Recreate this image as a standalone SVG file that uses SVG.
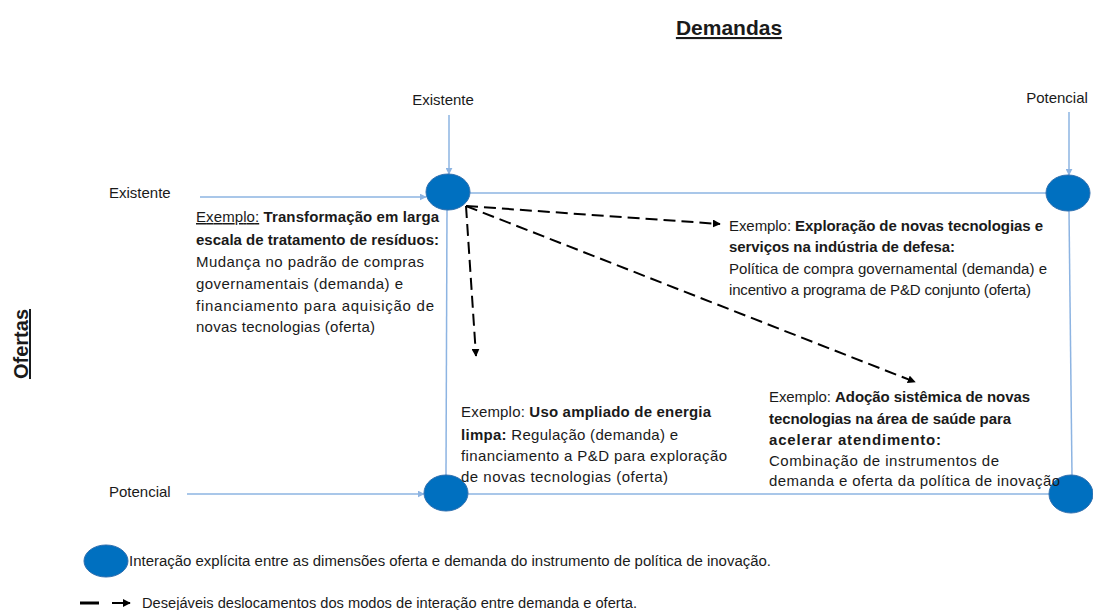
<svg xmlns="http://www.w3.org/2000/svg" width="1093" height="610" viewBox="0 0 1093 610">
<style>
text{font-family:"Liberation Sans",Arial,sans-serif;fill:#1a1a1a}
.t{font-size:15px}
.b{font-weight:bold}
.lbl{font-size:15px}
.ax{stroke:#8DB4E2;stroke-width:1.5;fill:none}
.node{fill:#0070C0;stroke:#2F6FAF;stroke-width:1}
.dash{stroke:#000;stroke-width:2;stroke-dasharray:12 6;fill:none}
</style>
<defs>
<marker id="ab" viewBox="0 0 10 10" refX="9" refY="5" markerWidth="7" markerHeight="7" markerUnits="userSpaceOnUse" orient="auto"><path d="M0,0L10,5L0,10z" fill="#8DB4E2"/></marker>
<marker id="ak" viewBox="0 0 10 10" refX="9" refY="5" markerWidth="8" markerHeight="8" markerUnits="userSpaceOnUse" orient="auto"><path d="M0,0L10,5L0,10z" fill="#000"/></marker>
</defs>
<text x="729" y="35" text-anchor="middle" class="b" font-size="21" text-decoration="underline">Demandas</text>
<text transform="translate(28,344) rotate(-90)" text-anchor="middle" class="b" font-size="20" text-decoration="underline">Ofertas</text>
<text x="443" y="105" text-anchor="middle" class="lbl">Existente</text>
<text x="1057" y="103" text-anchor="middle" class="lbl">Potencial</text>
<text x="109" y="198" class="lbl">Existente</text>
<text x="109" y="497" class="lbl">Potencial</text>
<g id="connectors">
<line class="ax" x1="449" y1="115" x2="449" y2="174" marker-end="url(#ab)"/>
<line class="ax" x1="1069" y1="112" x2="1069" y2="175" marker-end="url(#ab)"/>
<line class="ax" x1="200" y1="197" x2="426" y2="197" marker-end="url(#ab)"/>
<line class="ax" x1="187" y1="494" x2="424" y2="494" marker-end="url(#ab)"/>
<line class="ax" x1="470" y1="193" x2="1046" y2="193"/>
<line class="ax" x1="447" y1="210" x2="446" y2="475"/>
<line class="ax" x1="1069" y1="211" x2="1072" y2="476"/>
<line class="ax" x1="468" y1="494" x2="1050" y2="494"/>
<line class="dash" x1="466" y1="206" x2="476" y2="356" marker-end="url(#ak)"/>
<line class="dash" x1="466" y1="206" x2="720" y2="224" marker-end="url(#ak)"/>
<line class="dash" x1="466" y1="206" x2="915" y2="382" marker-end="url(#ak)"/>
</g>
<g id="n-ee"><ellipse class="node" cx="448" cy="192" rx="22" ry="18"/></g>
<g id="n-ep"><ellipse class="node" cx="1068" cy="193" rx="22" ry="18"/></g>
<g id="n-pe"><ellipse class="node" cx="446" cy="493" rx="22" ry="18"/></g>
<g id="n-pp"><ellipse class="node" cx="1071" cy="494" rx="22" ry="19"/></g>
<g id="ex1" class="t">
<text x="196" y="222" textLength="243"><tspan text-decoration="underline">Exemplo:</tspan> <tspan class="b">Transformação em larga</tspan></text>
<text x="196" y="245" class="b" textLength="243">escala de tratamento de resíduos:</text>
<text x="196" y="267" textLength="228">Mudança no padrão de compras</text>
<text x="196" y="289" textLength="207">governamentais (demanda) e</text>
<text x="196" y="311" textLength="238">financiamento para aquisição de</text>
<text x="196" y="332" textLength="179">novas tecnologias (oferta)</text>
</g>
<g id="ex2" class="t">
<text x="729" y="231" textLength="314">Exemplo: <tspan class="b">Exploração de novas tecnologias e</tspan></text>
<text x="729" y="252" class="b" textLength="226">serviços na indústria de defesa:</text>
<text x="729" y="274" textLength="318">Política de compra governamental (demanda) e</text>
<text x="729" y="295" textLength="302">incentivo a programa de P&amp;D conjunto (oferta)</text>
</g>
<g id="ex3" class="t">
<text x="461" y="417" textLength="250">Exemplo: <tspan class="b">Uso ampliado de energia</tspan></text>
<text x="461" y="440" textLength="217"><tspan class="b">limpa:</tspan> Regulação (demanda) e</text>
<text x="461" y="461" textLength="266">financiamento a P&amp;D para exploração</text>
<text x="461" y="482" textLength="207">de novas tecnologias (oferta)</text>
</g>
<g id="ex4" class="t">
<text x="769" y="402" textLength="261">Exemplo: <tspan class="b">Adoção sistêmica de novas</tspan></text>
<text x="769" y="424" class="b" textLength="242">tecnologias na área de saúde para</text>
<text x="769" y="445" class="b" textLength="172">acelerar atendimento:</text>
<text x="769" y="466" textLength="230">Combinação de instrumentos de</text>
<text x="769" y="486" textLength="291">demanda e oferta da política de inovação</text>
</g>
<g id="legend">
<ellipse class="node" cx="106" cy="561" rx="22" ry="16"/>
<text x="129" y="566" font-size="14" textLength="642" lengthAdjust="spacingAndGlyphs">Interação explícita entre as dimensões oferta e demanda do instrumento de política de inovação.</text>
<line x1="80" y1="603" x2="99" y2="603" stroke="#000" stroke-width="3"/>
<line x1="112" y1="603" x2="130" y2="603" stroke="#000" stroke-width="2" marker-end="url(#ak)"/>
<text x="142" y="608" font-size="14" textLength="495" lengthAdjust="spacingAndGlyphs">Desejáveis deslocamentos dos modos de interação entre demanda e oferta.</text>
</g>
</svg>
